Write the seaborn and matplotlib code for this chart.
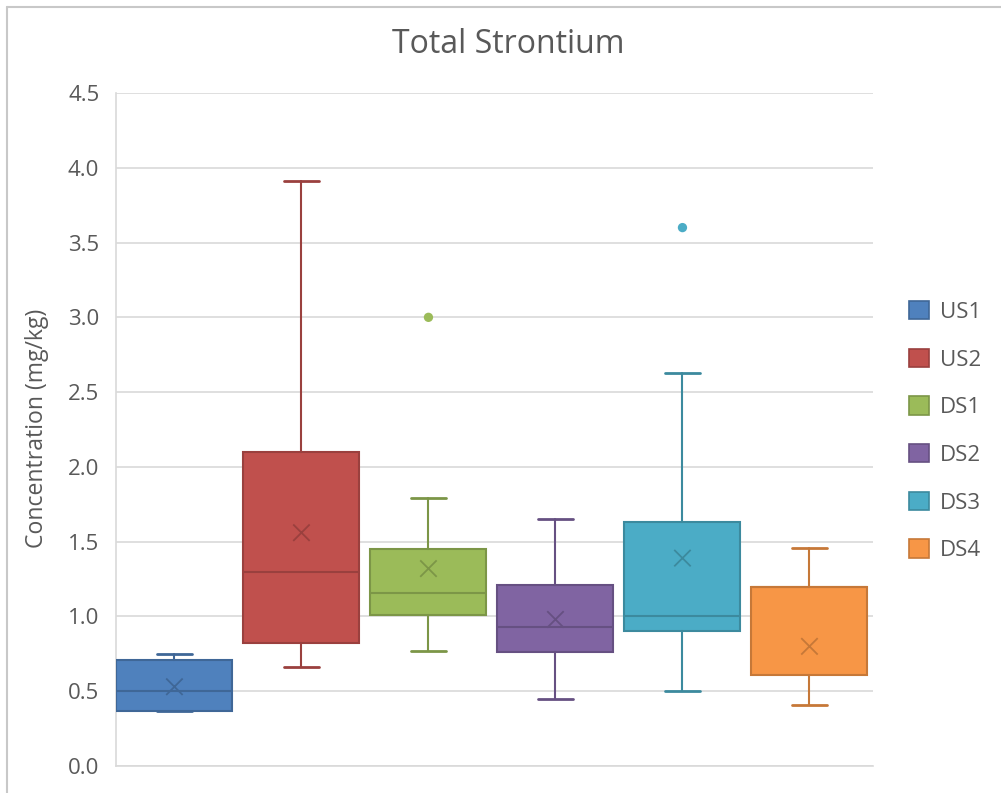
import numpy as np
import matplotlib
matplotlib.use("Agg")
import matplotlib.pyplot as plt
from matplotlib.patches import Patch
from matplotlib.lines import Line2D
import seaborn as sns

# Data
groups = ["US1", "US2", "DS1", "DS2", "DS3", "DS4"]
whisker_low = [0.37, 0.66, 0.77, 0.45, 0.50, 0.41]
q1 = [0.37, 0.82, 1.01, 0.76, 0.90, 0.61]
median = [0.50, 1.30, 1.16, 0.93, 1.00, 1.20]
q3 = [0.71, 2.10, 1.45, 1.21, 1.63, 1.20]
whisker_high = [0.75, 3.91, 1.79, 1.65, 2.63, 1.46]
means = [0.53, 1.56, 1.32, 0.98, 1.39, 0.80]
outlier_group = ["DS1", "DS3"]
outlier_value = [3.0, 3.6]

colors = ["#4F81BD", "#C0504D", "#9BBB59", "#8064A2", "#4BACC6", "#F79646"]


def darker(c, f=0.8):
    r, g, b = matplotlib.colors.to_rgb(c)
    return (r * f, g * f, b * f)


edge_colors = [darker(c) for c in colors]

sns.set_theme(style="whitegrid")
plt.rcParams["font.family"] = ["Open Sans", "DejaVu Sans"]

text_color = "#595959"
grid_color = "#d9d9d9"

fig = plt.figure(figsize=(10.01, 7.93), dpi=100)
ax = fig.add_axes([0.1159, 0.03405, 0.7562, 0.84867])

positions = np.arange(len(groups))

stats = []
for i, g in enumerate(groups):
    stats.append(dict(
        label=g,
        med=median[i],
        q1=q1[i],
        q3=q3[i],
        whislo=whisker_low[i],
        whishi=whisker_high[i],
        fliers=[],
    ))

bp = ax.bxp(
    stats,
    positions=positions,
    widths=0.913,
    capwidths=0.28,
    patch_artist=True,
    showfliers=False,
    manage_ticks=False,
)

for i in range(len(groups)):
    bp["boxes"][i].set_facecolor(colors[i])
    bp["boxes"][i].set_edgecolor(edge_colors[i])
    bp["boxes"][i].set_linewidth(1.5)
    bp["boxes"][i].set_zorder(3)
    bp["medians"][i].set_color(edge_colors[i])
    bp["medians"][i].set_linewidth(1.5)
    bp["medians"][i].set_zorder(4)
    for w in bp["whiskers"][2 * i:2 * i + 2]:
        w.set_color(edge_colors[i])
        w.set_linewidth(1.5)
        w.set_zorder(3)
    for c in bp["caps"][2 * i:2 * i + 2]:
        c.set_color(edge_colors[i])
        c.set_linewidth(2)
        c.set_zorder(3)

# Mean markers
sns.scatterplot(
    x=positions, y=means, hue=groups, palette=edge_colors,
    marker="x", s=140, linewidth=1.3, legend=False, ax=ax, zorder=5,
)

# Outliers
out_x = [groups.index(g) for g in outlier_group]
out_colors = [colors[groups.index(g)] for g in outlier_group]
sns.scatterplot(
    x=out_x, y=outlier_value, hue=outlier_group, palette=out_colors,
    marker="o", s=45, linewidth=0, legend=False, ax=ax, zorder=5,
)

ax.set_xlim(-0.46, 5.5)
ax.set_ylim(0, 4.5)
ax.set_yticks(np.arange(0, 4.51, 0.5))
ax.set_yticklabels([f"{v:.1f}" for v in np.arange(0, 4.51, 0.5)])
ax.set_xticks([])
ax.tick_params(axis="y", length=0, pad=12, labelsize=16, labelcolor=text_color)
ax.grid(axis="y", color=grid_color, linewidth=1.2)
ax.grid(axis="x", visible=False)
ax.set_axisbelow(True)
for side in ["top", "right"]:
    ax.spines[side].set_visible(False)
for side in ["left", "bottom"]:
    ax.spines[side].set_visible(True)
    ax.spines[side].set_color(grid_color)
    ax.spines[side].set_linewidth(1.2)
ax.set_facecolor("white")

fig.text(0.5075, 0.9445, "Total Strontium", ha="center", va="center",
         fontsize=23, color=text_color)
fig.text(0.037, 0.4603, "Concentration (mg/kg)", ha="center", va="center",
         rotation=90, fontsize=16.6, color=text_color)

handles = [Patch(facecolor=colors[i], edgecolor=edge_colors[i], linewidth=1.2)
           for i in range(len(groups))]
fig.legend(
    handles, groups, loc="upper left",
    bbox_to_anchor=(909 / 1001, 1 - 301 / 793),
    frameon=False, fontsize=16, labelcolor=text_color,
    handlelength=0.9, handleheight=0.9, handletextpad=0.5,
    labelspacing=1.16, borderpad=0, borderaxespad=0,
)

# outer chart border (top and left only visible)
fig.add_artist(Line2D([7 / 1001, 1], [1 - 7 / 793, 1 - 7 / 793],
                      transform=fig.transFigure, color="#c8c8c8", linewidth=1.5))
fig.add_artist(Line2D([7 / 1001, 7 / 1001], [0, 1 - 7 / 793],
                      transform=fig.transFigure, color="#c8c8c8", linewidth=1.5))

fig.savefig("out.png", dpi=100, facecolor="white")
